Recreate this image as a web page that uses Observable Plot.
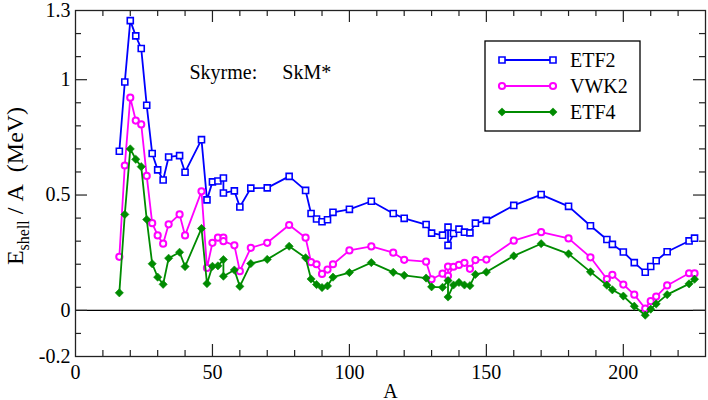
<!DOCTYPE html>
<html><head><meta charset="utf-8">
<script src="https://cdn.jsdelivr.net/npm/d3@7"></script>
<script src="https://cdn.jsdelivr.net/npm/@observablehq/plot@0.6"></script>
<style>
body{margin:0;background:#fff}
#chart{width:708px;height:400px}
</style>
</head><body><div id="chart"></div>
<script>
const massNumbers = [16,18,20,22,24,26,28,30,32,34,38,40,46,48,50,52,54,54,58,60,64,70,78,84,86,88,90,92,94,100,108,116,120,128,130,134,136,136,138,140,142,144,146,150,160,170,180,188,194,196,200,204,208,210,212,216,224,226];
const etf2 = [0.69,0.99,1.256,1.19,1.135,0.889,0.68,0.609,0.565,0.665,0.671,0.599,0.740,0.479,0.557,0.561,0.574,0.509,0.518,0.448,0.530,0.531,0.581,0.520,0.420,0.396,0.384,0.393,0.425,0.438,0.473,0.420,0.399,0.372,0.335,0.326,0.361,0.282,0.333,0.352,0.339,0.336,0.378,0.390,0.455,0.502,0.451,0.367,0.307,0.286,0.253,0.207,0.165,0.190,0.215,0.254,0.301,0.313];
const vwk2 = [0.232,0.628,0.922,0.823,0.806,0.583,0.378,0.325,0.289,0.373,0.416,0.325,0.516,0.184,0.293,0.315,0.315,0.300,0.282,0.170,0.271,0.293,0.370,0.315,0.209,0.200,0.158,0.177,0.200,0.260,0.277,0.250,0.219,0.211,0.135,0.159,0.190,0.150,0.189,0.197,0.206,0.180,0.218,0.220,0.302,0.339,0.312,0.230,0.136,0.154,0.112,0.068,0.008,0.040,0.060,0.108,0.161,0.160];
const etf4 = [0.076,0.416,0.700,0.655,0.623,0.394,0.202,0.144,0.113,0.226,0.252,0.190,0.355,0.116,0.191,0.193,0.220,0.148,0.175,0.104,0.203,0.221,0.278,0.228,0.136,0.112,0.099,0.106,0.144,0.164,0.207,0.165,0.152,0.140,0.102,0.100,0.129,0.058,0.110,0.121,0.110,0.107,0.156,0.166,0.236,0.289,0.245,0.167,0.109,0.089,0.062,0.018,-0.021,0.005,0.028,0.068,0.115,0.135];

const seriesNames = ["ETF2","VWK2","ETF4"];
const seriesColors = ["#0000ff","#ff00ff","#008b00"];
const xTickLabels = [0,50,100,150,200];
const xMajorTicks = [50,100,150,200];
const xMinorTicks = [10,20,30,40,60,70,80,90,110,120,130,140,160,170,180,190,210,220];
const yTickLabels = [-0.2,0,0.5,1,1.3];
const yMajorTicks = [0,0.5,1];
const yMinorTicks = [-0.1,0.1,0.2,0.3,0.4,0.6,0.7,0.8,0.9,1.1,1.2];
const annotation = "Skyrme:\u00a0\u00a0\u00a0\u00a0\u00a0SkM*";

const W = 708, H = 400, mL = 75, mR = 3, mT = 10, mB = 44;
const innerW = W - mL - mR, innerH = H - mT - mB;
const major = 12, minor = 6;
const serif = "Liberation Serif";

const seriesValues = [etf2, vwk2, etf4];
const tables = seriesValues.map(vals => massNumbers.map((a, i) => ({A: a, v: vals[i]})));

const dotStyles = [
  {symbol: "square", r: 3.4, fill: "white", strokeWidth: 1.6},
  {symbol: "circle", r: 3.1, fill: "white", strokeWidth: 2},
  {symbol: "diamond2", r: 3.7, fill: seriesColors[2], strokeWidth: 0.6}
];

const seriesMarks = [];
tables.forEach((t, k) => {
  seriesMarks.push(Plot.line(t, {x: "A", y: "v", stroke: seriesColors[k], strokeWidth: 1.8}));
  seriesMarks.push(Plot.dot(t, {x: "A", y: "v", stroke: seriesColors[k], ...dotStyles[k]}));
});

const tickColor = "#222";
const chart = Plot.plot({
  width: W, height: H,
  marginLeft: mL, marginRight: mR, marginTop: mT, marginBottom: mB,
  style: {background: "white", color: "black"},
  x: {domain: [0, 230]},
  y: {domain: [-0.2, 1.3]},
  marks: [
    Plot.ruleY([0], {stroke: "black", strokeWidth: 1.2}),
    Plot.tickX(xMinorTicks, {x: d => d, insetTop: innerH - minor, stroke: tickColor, strokeWidth: 1.2}),
    Plot.tickX(xMinorTicks, {x: d => d, insetBottom: innerH - minor, stroke: tickColor, strokeWidth: 1.2}),
    Plot.tickX(xMajorTicks, {x: d => d, insetTop: innerH - major, stroke: tickColor, strokeWidth: 1.2}),
    Plot.tickX(xMajorTicks, {x: d => d, insetBottom: innerH - major, stroke: tickColor, strokeWidth: 1.2}),
    Plot.tickY(yMinorTicks, {y: d => d, insetRight: innerW - minor, stroke: tickColor, strokeWidth: 1.2}),
    Plot.tickY(yMinorTicks, {y: d => d, insetLeft: innerW - minor, stroke: tickColor, strokeWidth: 1.2}),
    Plot.tickY(yMajorTicks, {y: d => d, insetRight: innerW - major, stroke: tickColor, strokeWidth: 1.2}),
    Plot.tickY(yMajorTicks, {y: d => d, insetLeft: innerW - major, stroke: tickColor, strokeWidth: 1.2}),
    ...seriesMarks,
    Plot.frame({stroke: tickColor, strokeWidth: 1.3}),
    Plot.axisX(xTickLabels, {tickSize: 0, tickPadding: 8, tickFormat: d => String(d), label: null, fontSize: 20}),
    Plot.axisY(yTickLabels, {tickSize: 0, tickPadding: 5, tickFormat: d => String(d), label: null, fontSize: 20}),
    Plot.text([annotation], {frameAnchor: "top-left", dx: 114, dy: 68, lineAnchor: "bottom", textAnchor: "start", fontSize: 20, fill: "black"}),
    Plot.text(["A"], {frameAnchor: "bottom", dy: 41, lineAnchor: "bottom", fontSize: 20, fill: "black"})
  ]
});
document.getElementById("chart").appendChild(chart);

const svg = d3.select(chart);
const yl = svg.append("text")
  .attr("transform", "translate(23,186) rotate(-90)")
  .attr("text-anchor", "middle")
  .attr("font-size", 24)
  .attr("fill", "black");
yl.append("tspan").text("E");
yl.append("tspan").attr("dy", 6).attr("font-size", 16).text("shell");
yl.append("tspan").attr("dy", -6).text("\u00a0/\u00a0A\u00a0\u00a0(MeV)");

const lg = svg.append("g").attr("transform", "translate(485,41)");
lg.append("rect").attr("width", 155).attr("height", 90).attr("fill", "white").attr("stroke", "black").attr("stroke-width", 1.3);
const symGen = [d3.symbolSquare, d3.symbolCircle, d3.symbolDiamond2];
seriesNames.forEach((name, k) => {
  const y = 19 + 26 * k;
  const row = lg.append("g").attr("transform", `translate(0,${y})`);
  row.append("line").attr("x1", 17).attr("x2", 68).attr("stroke", seriesColors[k]).attr("stroke-width", 1.8);
  const st = dotStyles[k];
  const size = Math.PI * st.r * st.r;
  [17, 68].forEach(x => {
    row.append("path").attr("d", d3.symbol(symGen[k], size)())
      .attr("transform", `translate(${x},0)`)
      .attr("fill", st.fill).attr("stroke", seriesColors[k]).attr("stroke-width", st.strokeWidth);
  });
  row.append("text").attr("x", 85).attr("y", 7).attr("text-anchor", "start")
    .attr("font-size", 20).attr("fill", "black").text(name);
});

// serif family everywhere: drop Plot's class/style hooks and force the family inline
svg.selectAll("style").remove();
svg.attr("class", null).attr("font-family", serif);
svg.selectAll("g").attr("font-family", serif);
svg.selectAll("text, tspan").each(function() {
  this.setAttribute("font-family", serif);
  this.style.setProperty("font-family", "'Liberation Serif', serif", "important");
});
</script></body></html>
